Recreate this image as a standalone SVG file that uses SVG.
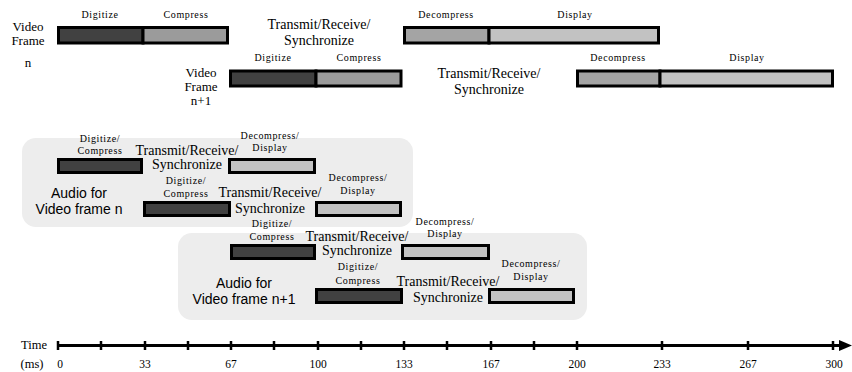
<svg xmlns="http://www.w3.org/2000/svg" width="852" height="372" viewBox="0 0 852 372">
<style>
.bar{stroke:#000;stroke-width:3}
.dk{fill:#414141}
.cp{fill:#9b9b9b}
.dc{fill:#a4a4a4}
.ds{fill:#c2c2c2}
.panel{fill:#ededed}
.s{font-family:"Liberation Serif",serif;font-size:10px;letter-spacing:0.6px;text-anchor:middle;fill:#000}
.m{font-family:"Liberation Serif",serif;font-size:14px;text-anchor:middle;fill:#000}
.v{font-family:"Liberation Serif",serif;font-size:13px;text-anchor:middle;fill:#000}
.a{font-family:"Liberation Sans",sans-serif;font-size:14px;text-anchor:middle;fill:#000}
.t{font-family:"Liberation Serif",serif;font-size:11.5px;text-anchor:middle;fill:#000}
.tl{font-family:"Liberation Serif",serif;font-size:12.5px;text-anchor:middle;fill:#000}
.tick{stroke:#000;stroke-width:2.5}
</style>
<rect x="0" y="0" width="852" height="372" fill="#fff"/>

<g id="video-frame-n">
  <text class="v" x="28" y="31">Video</text>
  <text class="v" x="28" y="45">Frame</text>
  <text class="v" x="28" y="67">n</text>
  <rect class="bar dk" x="58.5" y="27.5" width="84.5" height="15.5"/>
  <rect class="bar cp" x="143" y="27.5" width="84.5" height="15.5"/>
  <text class="s" x="100" y="18">Digitize</text>
  <text class="s" x="186" y="18">Compress</text>
  <text class="m" x="319" y="29">Transmit/Receive/</text>
  <text class="m" x="319" y="45">Synchronize</text>
  <rect class="bar dc" x="404.5" y="27.5" width="84.5" height="15.5"/>
  <rect class="bar ds" x="489" y="27.5" width="169.5" height="15.5"/>
  <text class="s" x="446" y="18">Decompress</text>
  <text class="s" x="575" y="18">Display</text>
</g>

<g id="video-frame-n1">
  <text class="v" x="201" y="77">Video</text>
  <text class="v" x="201" y="91">Frame</text>
  <text class="v" x="201" y="105">n+1</text>
  <rect class="bar dk" x="230.5" y="71" width="85.5" height="15"/>
  <rect class="bar cp" x="316" y="71" width="85" height="15"/>
  <text class="s" x="273" y="61">Digitize</text>
  <text class="s" x="359" y="61">Compress</text>
  <text class="m" x="489" y="78">Transmit/Receive/</text>
  <text class="m" x="489" y="94">Synchronize</text>
  <rect class="bar dc" x="577.5" y="71" width="82.5" height="15"/>
  <rect class="bar ds" x="660" y="71" width="172.5" height="15"/>
  <text class="s" x="618" y="61">Decompress</text>
  <text class="s" x="747" y="61">Display</text>
</g>

<g id="audio-frame-n">
  <rect class="panel" x="22" y="138" width="391" height="89" rx="14"/>
  <rect class="bar dk" x="58.5" y="159.5" width="83" height="13"/>
  <rect class="bar ds" x="229.5" y="159.5" width="85" height="13"/>
  <text class="s" x="100" y="142">Digitize/</text>
  <text class="s" x="100" y="154">Compress</text>
  <text class="m" x="187" y="155">Transmit/Receive/</text>
  <text class="m" x="187" y="169">Synchronize</text>
  <text class="s" x="270" y="139">Decompress/</text>
  <text class="s" x="270" y="151">Display</text>
  <rect class="bar dk" x="144.5" y="202.5" width="85" height="13"/>
  <rect class="bar ds" x="316.5" y="202.5" width="84" height="13"/>
  <text class="s" x="186" y="184">Digitize/</text>
  <text class="s" x="186" y="197">Compress</text>
  <text class="m" x="270" y="197">Transmit/Receive/</text>
  <text class="m" x="270" y="213">Synchronize</text>
  <text class="s" x="358" y="181">Decompress/</text>
  <text class="s" x="358" y="194">Display</text>
  <text class="a" x="79" y="198">Audio for</text>
  <text class="a" x="79" y="214">Video frame n</text>
</g>

<g id="audio-frame-n1">
  <rect class="panel" x="178" y="233" width="409" height="87" rx="14"/>
  <rect class="bar dk" x="231.5" y="245.5" width="83" height="13"/>
  <rect class="bar ds" x="402.5" y="245.5" width="86" height="13"/>
  <text class="s" x="272" y="227">Digitize/</text>
  <text class="s" x="272" y="240">Compress</text>
  <text class="m" x="357" y="241">Transmit/Receive/</text>
  <text class="m" x="357" y="255">Synchronize</text>
  <text class="s" x="445" y="225">Decompress/</text>
  <text class="s" x="445" y="237">Display</text>
  <rect class="bar dk" x="316.5" y="289.5" width="85" height="13"/>
  <rect class="bar ds" x="489.5" y="289.5" width="84" height="13"/>
  <text class="s" x="358" y="270">Digitize/</text>
  <text class="s" x="358" y="284">Compress</text>
  <text class="m" x="448" y="286">Transmit/Receive/</text>
  <text class="m" x="448" y="302">Synchronize</text>
  <text class="s" x="531" y="267">Decompress/</text>
  <text class="s" x="531" y="280">Display</text>
  <text class="a" x="244" y="288">Audio for</text>
  <text class="a" x="244" y="304">Video frame n+1</text>
</g>

<g id="connectors">
  <line x1="57" y1="345.5" x2="842" y2="345.5" stroke="#000" stroke-width="3"/>
  <polygon points="839,340 852,345.5 839,351" fill="#000"/>
  <g class="tick">
    <line x1="58" y1="341" x2="58" y2="350"/>
    <line x1="101" y1="341" x2="101" y2="350"/>
    <line x1="145" y1="341" x2="145" y2="350"/>
    <line x1="188" y1="341" x2="188" y2="350"/>
    <line x1="231" y1="341" x2="231" y2="350"/>
    <line x1="274" y1="341" x2="274" y2="350"/>
    <line x1="318" y1="341" x2="318" y2="350"/>
    <line x1="361" y1="341" x2="361" y2="350"/>
    <line x1="404" y1="341" x2="404" y2="350"/>
    <line x1="447" y1="341" x2="447" y2="350"/>
    <line x1="491" y1="341" x2="491" y2="350"/>
    <line x1="534" y1="341" x2="534" y2="350"/>
    <line x1="577" y1="341" x2="577" y2="350"/>
    <line x1="662" y1="341" x2="662" y2="350"/>
    <line x1="748" y1="341" x2="748" y2="350"/>
    <line x1="833" y1="341" x2="833" y2="350"/>
  </g>
</g>

<g id="timeline-labels">
  <text class="tl" x="34" y="349">Time</text>
  <text class="tl" x="32" y="368">(ms)</text>
  <text class="t" x="60" y="368">0</text>
  <text class="t" x="145" y="368">33</text>
  <text class="t" x="231" y="368">67</text>
  <text class="t" x="318" y="368">100</text>
  <text class="t" x="404" y="368">133</text>
  <text class="t" x="491" y="368">167</text>
  <text class="t" x="577" y="368">200</text>
  <text class="t" x="662" y="368">233</text>
  <text class="t" x="748" y="368">267</text>
  <text class="t" x="834" y="368">300</text>
</g>
</svg>
